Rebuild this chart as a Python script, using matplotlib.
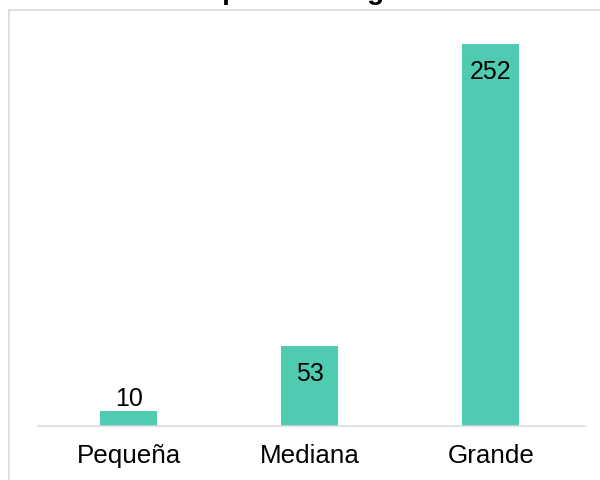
import matplotlib.pyplot as plt
from matplotlib.lines import Line2D

plt.rcParams['font.family'] = ['Liberation Sans', 'DejaVu Sans']

categories = ["Pequeña", "Mediana", "Grande"]
values = [10, 53, 252]
title = "Cantidad media de empleados según tamaño de la empresa"

bar_color = "#4ecbb0"
grid_color = "#d9d9d9"

W, H = 600, 481
fig = plt.figure(figsize=(6, 4.81), dpi=100)

# chart area border (cropped: only left and top edges visible)
fig.add_artist(Line2D([8.5 / W, 8.5 / W], [0, 1 - 11 / H], transform=fig.transFigure,
                      color=grid_color, lw=1.2))
fig.add_artist(Line2D([8.5 / W, 1], [1 - 11 / H, 1 - 11 / H], transform=fig.transFigure,
                      color=grid_color, lw=1.2))

# title, mostly cut off at the top edge
fig.text(-75 / W, 1 + 1 / H, title, fontsize=20.2, fontweight="bold",
         ha="left", va="baseline")

ax = fig.add_axes([38 / W, 1 - 427 / H, 547 / W, (427 - 45) / H])
x = range(len(categories))
bars = ax.bar(x, values, width=0.315, color=bar_color, zorder=2)
ax.set_xlim(-0.5, 2.52)
ax.set_ylim(0, 252)

for spine in ["top", "right", "left"]:
    ax.spines[spine].set_visible(False)
ax.spines["bottom"].set_color(grid_color)
ax.spines["bottom"].set_linewidth(1.1)
ax.set_yticks([])
ax.set_xticks(list(x))
ax.set_xticklabels(categories, fontsize=18.7)
ax.tick_params(axis="x", length=0, pad=12)

for b, v in zip(bars, values):
    cx = b.get_x() + b.get_width() / 2
    if v > 30:
        ax.annotate(str(v), (cx, v), xytext=(0, -19.5), textcoords="offset points",
                    ha="center", va="center", fontsize=18)
    else:
        ax.annotate(str(v), (cx, v), xytext=(0, 0.5), textcoords="offset points",
                    ha="center", va="bottom", fontsize=18)

fig.savefig("out.png", dpi=100)
